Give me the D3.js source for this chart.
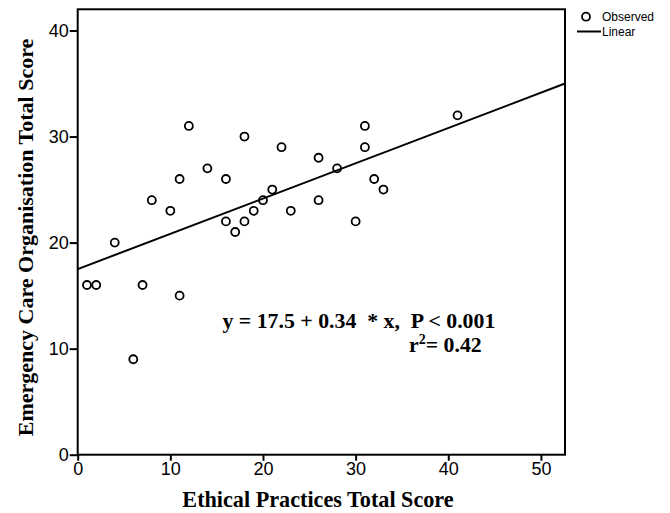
<!DOCTYPE html>
<html><head><meta charset="utf-8">
<script src="https://cdn.jsdelivr.net/npm/d3@7"></script>
<style>body{margin:0;background:#fff}</style>
</head><body>
<svg id="c" width="670" height="513"></svg>
<script>
const obsX = [4, 8, 10, 11, 12, 14, 16, 16, 17, 18, 18, 19, 20, 21, 22, 23, 26, 26, 28, 31, 31, 32, 33, 30, 41, 1, 2, 7, 11, 6];
const obsY = [20, 24, 23, 26, 31, 27, 26, 22, 21, 30, 22, 23, 24, 25, 29, 23, 28, 24, 27, 31, 29, 26, 25, 22, 32, 16, 16, 16, 15, 9];
const fitX = [0, 52.6];
const fitY = [17.5, 35.0];
const xTicks = [0, 10, 20, 30, 40, 50];
const yTicks = [0, 10, 20, 30, 40];
const xDomain = [0, 52.6];
const yDomain = [0, 42];
const xTitle = "Ethical Practices Total Score";
const yTitle = "Emergency Care Organisation Total Score";
const eqLine1 = "y = 17.5 + 0.34  * x,  P < 0.001";
const legendLabels = ["Observed", "Linear"];

const svg = d3.select("#c");
const L = 77.7, R = 565, T = 9.3, B = 454.7;
const x = d3.scaleLinear().domain(xDomain).range([L, R]);
const y = d3.scaleLinear().domain(yDomain).range([B, T]);

svg.append("rect").attr("x", L).attr("y", T).attr("width", R - L).attr("height", B - T)
  .attr("fill", "none").attr("stroke", "#000").attr("stroke-width", 2);

const tickFont = "'Liberation Sans Narrow', 'Liberation Sans', Arial, sans-serif";
const xAxis = svg.append("g").attr("transform", `translate(0,${B})`)
  .call(d3.axisBottom(x).tickValues(xTicks).tickSize(6).tickPadding(2).tickSizeOuter(0));
xAxis.select(".domain").remove();
xAxis.selectAll("line").attr("stroke-width", 2);
xAxis.selectAll("text").attr("font-family", tickFont).attr("font-size", 18).attr("fill", "#000");

const yAxis = svg.append("g").attr("transform", `translate(${L},0)`)
  .call(d3.axisLeft(y).tickValues(yTicks).tickSize(8).tickPadding(1).tickSizeOuter(0));
yAxis.select(".domain").remove();
yAxis.selectAll("line").attr("stroke-width", 2);
yAxis.selectAll("text").attr("font-family", tickFont).attr("font-size", 18).attr("fill", "#000");

const line = d3.line().x(d => x(d[0])).y(d => y(d[1]));
svg.append("path").datum(fitX.map((v, i) => [v, fitY[i]]))
  .attr("d", line).attr("fill", "none").attr("stroke", "#000").attr("stroke-width", 2);

svg.append("g").selectAll("circle").data(obsX.map((v, i) => [v, obsY[i]])).join("circle")
  .attr("cx", d => x(d[0])).attr("cy", d => y(d[1])).attr("r", 4)
  .attr("fill", "none").attr("stroke", "#000").attr("stroke-width", 1.8);

const serif = "'Liberation Serif', 'Times New Roman', serif";
svg.append("text").attr("x", 318).attr("y", 506.5).attr("text-anchor", "middle")
  .attr("font-family", serif).attr("font-weight", "bold").attr("font-size", 22.2).text(xTitle);
svg.append("text").attr("transform", `translate(33,237.5) rotate(-90)`).attr("text-anchor", "middle")
  .attr("font-family", serif).attr("font-weight", "bold").attr("font-size", 22).text(yTitle);

svg.append("text").attr("x", 222.5).attr("y", 328).attr("font-family", serif).attr("font-weight", "bold")
  .attr("font-size", 21.8).style("white-space", "pre").text(eqLine1);
const t2 = svg.append("text").attr("x", 409).attr("y", 352).attr("font-family", serif).attr("font-weight", "bold")
  .attr("font-size", 21.8);
t2.append("tspan").text("r");
t2.append("tspan").attr("dy", -8).attr("font-size", 14).text("2");
t2.append("tspan").attr("dy", 8).text("= 0.42");

const lf = "'Liberation Sans', Arial, sans-serif";
svg.append("circle").attr("cx", 586).attr("cy", 16.7).attr("r", 4).attr("fill", "none").attr("stroke", "#000").attr("stroke-width", 1.8);
svg.append("text").attr("x", 602).attr("y", 21).attr("font-family", lf).attr("font-size", 12).text(legendLabels[0]);
svg.append("line").attr("x1", 577).attr("x2", 601).attr("y1", 31.5).attr("y2", 31.5).attr("stroke", "#000").attr("stroke-width", 2);
svg.append("text").attr("x", 602).attr("y", 36).attr("font-family", lf).attr("font-size", 12).text(legendLabels[1]);
</script>
</body></html>
